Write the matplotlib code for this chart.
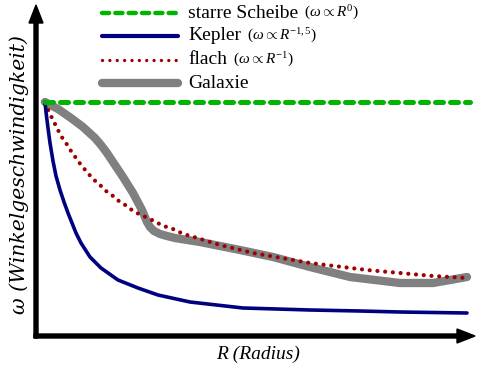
import matplotlib.pyplot as plt

plt.rcParams['font.family'] = ['Liberation Serif', 'DejaVu Serif']
plt.rcParams['mathtext.fontset'] = 'custom'
plt.rcParams['mathtext.rm'] = 'Liberation Serif'
plt.rcParams['mathtext.it'] = 'Liberation Serif:italic'

# values (R and omega in pixel-like units from the origin)
starr_r = [9, 434]
starr_w = [234, 234]

kepler_r = [9, 10, 12, 14, 17, 20, 24, 28, 32, 36, 40, 45, 54, 65, 82, 102, 122, 154,
            207, 274, 324, 364, 431]
kepler_w = [234, 224, 208, 193, 175, 160, 146, 134, 123, 113, 103, 93, 79, 68, 56, 48, 41, 34,
            28, 26, 25, 24, 23]

flach_r = [9, 13, 17, 21, 25, 30, 35, 40, 45, 51, 57, 64, 70, 77, 84, 91, 97, 105, 112, 120,
           127, 135, 143, 151, 158, 184, 217, 274, 331, 364, 397, 431]
flach_w = [233, 224, 216, 208, 200, 193, 185, 178, 171, 164, 157, 151, 145, 140, 134, 130, 125, 121, 118, 114,
           110, 108, 104, 101, 99, 91, 83, 73, 66, 63, 60, 58]

gal_r = [9, 22, 35, 47, 59, 65, 71, 79, 87, 97, 106, 111, 114, 118, 124, 131, 139, 164, 204,
         237, 274, 314, 364, 397, 414, 431]
gal_w = [234, 227, 218, 209, 198, 191, 183, 171, 159, 143, 126, 114, 109, 105, 102, 100, 98, 94, 86,
         79, 69, 59, 53, 53, 56, 59]

fig = plt.figure(figsize=(4.88, 3.74), dpi=100)
ax = fig.add_axes([36 / 488, 38 / 374, 440 / 488, 332 / 374])
ax.set_xlim(0, 440)
ax.set_ylim(0, 332)
ax.axis('off')

green_style = dict(color='#00b400', lw=3.6, ls=(0, (1.6, 1.4)), dash_capstyle='round')
red_style = dict(color='#a00000', lw=3, ls=(0, (0.01, 1.85)), dash_capstyle='round')

ax.plot(gal_r, gal_w, color='#808080', lw=6, solid_capstyle='round',
        solid_joinstyle='round', clip_on=False)
ax.plot(flach_r, flach_w, clip_on=False, **red_style)
ax.plot(kepler_r, kepler_w, color='#000080', lw=2.6, solid_capstyle='round',
        solid_joinstyle='round', clip_on=False)
ax.plot(starr_r, starr_w, clip_on=False, **green_style)

# axis arrows
ax.arrow(-2, 0, 441, 0, width=4, head_width=14, head_length=18,
         length_includes_head=True, color='black', clip_on=False)
ax.arrow(0, -2, 0, 333, width=4, head_width=14, head_length=18,
         length_includes_head=True, color='black', clip_on=False)

fig.text(258 / 488, 1 - 354 / 374, 'R (Radius)', style='italic', fontsize=14,
         ha='center', va='center')
fig.text(19 / 488, 1 - 175 / 374, '\u03c9 (Winkelgeschwindigkeit)', style='italic',
         family=['DejaVu Serif'], fontsize=14.7, rotation=90, ha='center', va='center')

# legend
legend_rows = [
    ('starre Scheibe', r'$\mathit{(\omega\propto R^{0})}$', dict(green_style, lw=3.2)),
    ('Kepler', r'$\mathit{(\omega\propto R^{-1,5})}$', dict(color='#000080', lw=3, solid_capstyle='round')),
    ('flach', r'$\mathit{(\omega\propto R^{-1})}$', dict(red_style, lw=2.4, ls=(0, (0.01, 2.2)))),
    ('Galaxie', '', dict(color='#808080', lw=6, solid_capstyle='round')),
]
row_y = [13, 36, 60, 83]
for (name, formula, style), y in zip(legend_rows, row_y):
    fy = 1 - y / 374
    fig.add_artist(plt.Line2D([102 / 488, 178 / 488], [fy, fy], transform=fig.transFigure, **style))
    t = fig.text(188 / 488, fy, name, fontsize=14, ha='left', va='center')
    if formula:
        fig.canvas.draw()
        bb = t.get_window_extent()
        fig.text((bb.x1 + 6) / 488, fy, formula, fontsize=11, ha='left', va='center')

fig.savefig('out.png', dpi=100)
